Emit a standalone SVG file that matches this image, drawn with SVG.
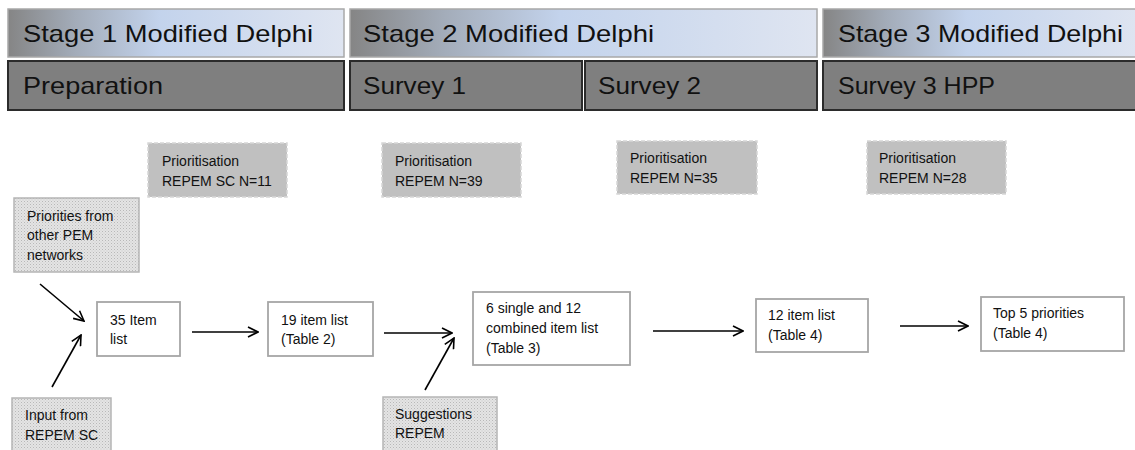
<svg xmlns="http://www.w3.org/2000/svg" width="1135" height="450" viewBox="0 0 1135 450">
<defs>
<linearGradient id="stageGrad" x1="0" y1="0" x2="1" y2="0">
<stop offset="0" stop-color="#858585"/>
<stop offset="0.2" stop-color="#a3acb9"/>
<stop offset="0.45" stop-color="#c3d3ec"/>
<stop offset="1" stop-color="#dfe5f1"/>
</linearGradient>
<pattern id="stipple" width="3" height="3" patternUnits="userSpaceOnUse">
<rect width="3" height="3" fill="#e4e4e4"/>
<rect width="1" height="1" fill="#b8b8b8"/>
<rect x="1.5" y="1.5" width="1" height="1" fill="#c8c8c8"/>
</pattern>
<marker id="arrow" viewBox="0 0 12 12" refX="11" refY="6" markerWidth="12" markerHeight="12" markerUnits="userSpaceOnUse" orient="auto">
<path d="M1,1 L11,6 L1,11" fill="none" stroke="#000" stroke-width="1.6"/>
</marker>
</defs>
<style>
.stage{fill:url(#stageGrad);stroke:#a8a8a8;stroke-width:1.5}
.phase{fill:#7f7f7f;stroke:#2b2b2b;stroke-width:2}
.head{font-family:"Liberation Sans",Arial,sans-serif;font-size:24px;fill:#111}
.prio{fill:#c0c0c0;stroke:#d6d6d6;stroke-width:1.5;stroke-dasharray:4 2}
.src{fill:url(#stipple);stroke:#b5b5b5;stroke-width:1.5}
.item{fill:#fff;stroke:#a6a6a6;stroke-width:1.8}
.t{font-family:"Liberation Sans",Arial,sans-serif;font-size:14px;fill:#111}
.conn line{stroke:#000;stroke-width:1.6;marker-end:url(#arrow)}
</style>

<g id="stage1">
<rect class="stage" x="8" y="9" width="336" height="48"/>
<text class="head" x="23" y="42" textLength="290" lengthAdjust="spacingAndGlyphs">Stage 1 Modified Delphi</text>
</g>
<g id="stage2">
<rect class="stage" x="350" y="9" width="467" height="48"/>
<text class="head" x="363" y="42" textLength="291" lengthAdjust="spacingAndGlyphs">Stage 2 Modified Delphi</text>
</g>
<g id="stage3">
<rect class="stage" x="823" y="9" width="320" height="48"/>
<text class="head" x="838" y="42" textLength="285" lengthAdjust="spacingAndGlyphs">Stage 3 Modified Delphi</text>
</g>

<g id="preparation">
<rect class="phase" x="8" y="61" width="336" height="49"/>
<text class="head" x="23" y="94" textLength="140" lengthAdjust="spacingAndGlyphs">Preparation</text>
</g>
<g id="survey1">
<rect class="phase" x="350" y="61" width="232" height="49"/>
<text class="head" x="363" y="94" textLength="103" lengthAdjust="spacingAndGlyphs">Survey 1</text>
</g>
<g id="survey2">
<rect class="phase" x="585" y="61" width="232" height="49"/>
<text class="head" x="598" y="94" textLength="103" lengthAdjust="spacingAndGlyphs">Survey 2</text>
</g>
<g id="survey3">
<rect class="phase" x="823" y="61" width="320" height="49"/>
<text class="head" x="838" y="94" textLength="157" lengthAdjust="spacingAndGlyphs">Survey 3 HPP</text>
</g>

<g id="prio1">
<rect class="prio" x="148" y="143" width="139" height="54"/>
<text class="t" x="162" y="166">Prioritisation</text>
<text class="t" x="162" y="186">REPEM SC N=11</text>
</g>
<g id="prio2">
<rect class="prio" x="382" y="143" width="139" height="54"/>
<text class="t" x="395" y="166">Prioritisation</text>
<text class="t" x="395" y="186">REPEM N=39</text>
</g>
<g id="prio3">
<rect class="prio" x="617" y="141" width="140" height="53"/>
<text class="t" x="630" y="163">Prioritisation</text>
<text class="t" x="630" y="183">REPEM N=35</text>
</g>
<g id="prio4">
<rect class="prio" x="867" y="141" width="139" height="53"/>
<text class="t" x="879" y="163">Prioritisation</text>
<text class="t" x="879" y="183">REPEM N=28</text>
</g>

<g id="otherPEM">
<rect class="src" x="14" y="198" width="125" height="74"/>
<text class="t" x="27" y="221">Priorities from</text>
<text class="t" x="27" y="240">other PEM</text>
<text class="t" x="27" y="260">networks</text>
</g>
<g id="inputSC">
<rect class="src" x="12" y="398" width="99" height="60"/>
<text class="t" x="25" y="420">Input from</text>
<text class="t" x="25" y="440">REPEM SC</text>
</g>
<g id="suggestions">
<rect class="src" x="383" y="397" width="114" height="60"/>
<text class="t" x="395" y="419">Suggestions</text>
<text class="t" x="395" y="438">REPEM</text>
</g>

<g id="item35">
<rect class="item" x="97" y="302" width="83" height="54"/>
<text class="t" x="110" y="325">35 Item</text>
<text class="t" x="110" y="344">list</text>
</g>
<g id="item19">
<rect class="item" x="268" y="302" width="105" height="54"/>
<text class="t" x="281" y="325">19 item list</text>
<text class="t" x="281" y="344">(Table 2)</text>
</g>
<g id="item18">
<rect class="item" x="473" y="292" width="157" height="73"/>
<text class="t" x="486" y="313">6 single and 12</text>
<text class="t" x="486" y="333">combined item list</text>
<text class="t" x="486" y="353">(Table 3)</text>
</g>
<g id="item12">
<rect class="item" x="756" y="299" width="112" height="53"/>
<text class="t" x="768" y="320">12 item list</text>
<text class="t" x="768" y="340">(Table 4)</text>
</g>
<g id="top5">
<rect class="item" x="981" y="297" width="143" height="54"/>
<text class="t" x="993" y="318">Top 5 priorities</text>
<text class="t" x="993" y="338">(Table 4)</text>
</g>

<g id="connectors" class="conn">
<line x1="40" y1="284" x2="84" y2="321"/>
<line x1="52" y1="387" x2="81" y2="335"/>
<line x1="192" y1="332" x2="258" y2="332"/>
<line x1="384" y1="333" x2="452" y2="333"/>
<line x1="425" y1="390" x2="454" y2="338"/>
<line x1="653" y1="331" x2="743" y2="331"/>
<line x1="900" y1="326" x2="968" y2="326"/>
</g>
</svg>
